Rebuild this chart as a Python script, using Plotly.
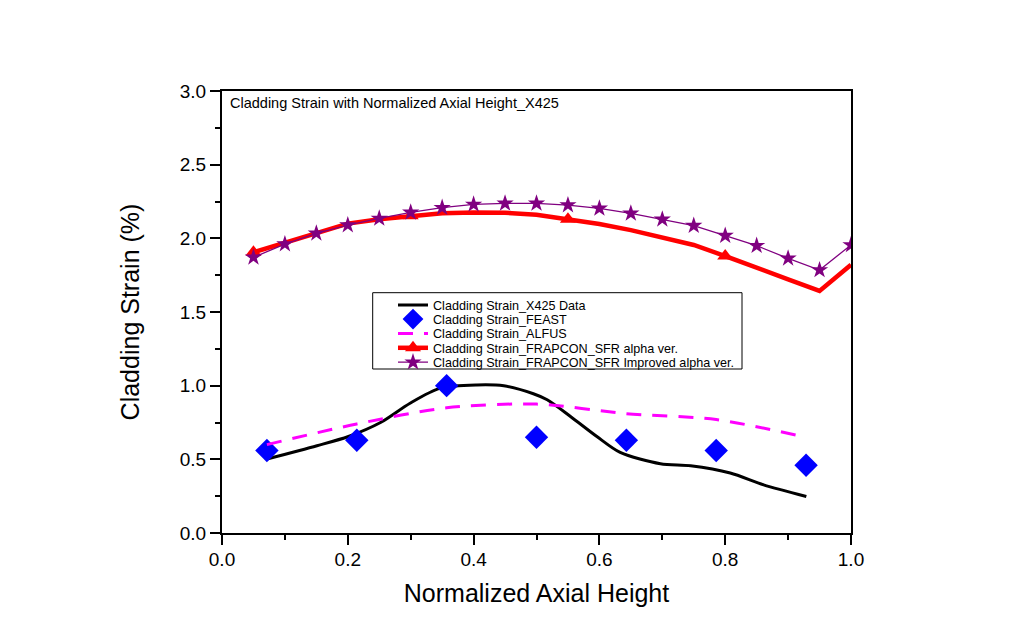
import plotly.graph_objects as go

# ---- data ----
x425_x = [0.0715, 0.151, 0.201, 0.252, 0.299, 0.347, 0.405, 0.448, 0.495, 0.517, 0.554,
          0.596, 0.633, 0.697, 0.745, 0.808, 0.861, 0.929]
x425_y = [0.502, 0.592, 0.655, 0.750, 0.881, 0.983, 1.005, 0.999, 0.945, 0.904, 0.791,
          0.655, 0.547, 0.470, 0.456, 0.407, 0.327, 0.248]

feast_x = [0.0714, 0.2143, 0.3571, 0.5, 0.6429, 0.7857, 0.9286]
feast_y = [0.56, 0.63, 1.00, 0.65, 0.63, 0.56, 0.46]

alfus_x = [0.0714, 0.2143, 0.3571, 0.5, 0.6429, 0.7857, 0.9286]
alfus_y = [0.60, 0.74, 0.85, 0.875, 0.81, 0.77, 0.65]

frap_x = [0.05, 0.10, 0.15, 0.20, 0.25, 0.30, 0.35, 0.40, 0.45, 0.50,
          0.55, 0.60, 0.65, 0.70, 0.75, 0.80, 0.85, 0.90, 0.95, 1.00]
frap_alpha_y = [1.905, 1.97, 2.04, 2.10, 2.13, 2.153, 2.17, 2.176, 2.174, 2.16,
                2.129, 2.097, 2.056, 2.007, 1.955, 1.88, 1.797, 1.722, 1.643, 1.82]
frap_impr_y = [1.871, 1.961, 2.034, 2.090, 2.135, 2.176, 2.208, 2.230, 2.237, 2.237,
               2.226, 2.203, 2.169, 2.129, 2.086, 2.018, 1.950, 1.864, 1.785, 1.955]

names = ["Cladding Strain_X425 Data", "Cladding Strain_FEAST", "Cladding Strain_ALFUS",
         "Cladding Strain_FRAPCON_SFR alpha ver.",
         "Cladding Strain_FRAPCON_SFR Improved alpha ver."]
title_text = "Cladding Strain with Normalized Axial Height_X425"
x_title = "Normalized Axial Height"
y_title = "Cladding Strain (%)"

FONT = "Liberation Sans, Arial"
legend_ids = ["legend", "legend2", "legend3", "legend4", "legend5"]

fig = go.Figure()

fig.add_trace(go.Scatter(x=x425_x, y=x425_y, mode="lines", name=names[0], legend=legend_ids[0],
                         line=dict(color="black", width=3, shape="spline", smoothing=0.8)))
fig.add_trace(go.Scatter(x=feast_x, y=feast_y, mode="markers", name=names[1], legend=legend_ids[1],
                         marker=dict(symbol="diamond", size=18, color="#0000FF")))
fig.add_trace(go.Scatter(x=alfus_x, y=alfus_y, mode="lines", name=names[2], legend=legend_ids[2],
                         line=dict(color="#FF00FF", width=3, dash="15px,11px", shape="spline", smoothing=0.8)))
# FRAPCON alpha: line + triangles every 5th point
fig.add_trace(go.Scatter(x=frap_x, y=frap_alpha_y, mode="lines", showlegend=False,
                         line=dict(color="#FF0000", width=4.5)))
fig.add_trace(go.Scatter(x=frap_x[::5], y=frap_alpha_y[::5], mode="markers", showlegend=False,
                         marker=dict(symbol="triangle-up", size=14, color="#FF0000")))
fig.add_trace(go.Scatter(x=[None], y=[None], mode="lines+markers", name=names[3], legend=legend_ids[3],
                         line=dict(color="#FF0000", width=4.5),
                         marker=dict(symbol="triangle-up", size=14, color="#FF0000")))
fig.add_trace(go.Scatter(x=frap_x, y=frap_impr_y, mode="lines+markers", name=names[4], legend=legend_ids[4],
                         line=dict(color="#800080", width=1.3),
                         marker=dict(symbol="star", size=13, color="#800080")))

axis_common = dict(showgrid=False, zeroline=False, showline=True, linecolor="black",
                   linewidth=2, mirror=True, ticks="outside", ticklen=10, tickwidth=2,
                   tickcolor="black", tickfont=dict(family=FONT, size=19, color="black"))

# legend geometry (paper coordinates of plot area)
PLOT_TOP_PX, PLOT_BOT_PX = 91.0, 533.0
def py(px):
    return (PLOT_BOT_PX - px) / (PLOT_BOT_PX - PLOT_TOP_PX)

row_centers = [304.7, 318.9, 333.2, 347.6, 362.0]
legends = {}
for lid, cy in zip(legend_ids, row_centers):
    legends[lid] = dict(x=(393 - 222) / 629, y=py(cy - 14.5), xanchor="left", yanchor="top",
                        bgcolor="rgba(0,0,0,0)", borderwidth=0, itemwidth=30,
                        font=dict(size=12.6, family=FONT, color="black"))

fig.update_layout(
    width=1024, height=625,
    margin=dict(l=214, r=181, t=83, b=100),
    paper_bgcolor="white", plot_bgcolor="white",
    font=dict(family=FONT, color="black"),
    xaxis=dict(range=[0, 1], dtick=0.2, tick0=0, tickformat=".1f", ticklabelstandoff=-2,
               minor=dict(dtick=0.1, ticks="outside", ticklen=5, tickwidth=2, tickcolor="black"),
               title=dict(text=x_title, font=dict(size=25), standoff=16),
               **axis_common),
    yaxis=dict(range=[0, 3], dtick=0.5, tick0=0, tickformat=".1f",
               minor=dict(dtick=0.25, ticks="outside", ticklen=5, tickwidth=2, tickcolor="black"),
               title=dict(text=y_title, font=dict(size=25), standoff=33),
               **axis_common),
    showlegend=True,
    shapes=[dict(type="rect", xref="paper", yref="paper",
                 x0=(372.7 - 222) / 629, x1=(742 - 222) / 629,
                 y0=py(369), y1=py(292.7),
                 line=dict(color="black", width=1), fillcolor="white", layer="above")],
    annotations=[dict(text=title_text, xref="paper", yref="paper", x=0.01, y=py(103),
                      xanchor="left", yanchor="middle", showarrow=False,
                      font=dict(size=14.5, family=FONT, color="black"))],
    **legends,
)

fig.write_html("out.html")
